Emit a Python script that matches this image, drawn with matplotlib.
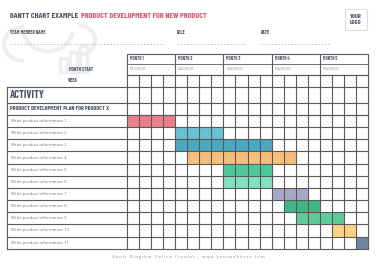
import numpy as np
import matplotlib.pyplot as plt
from matplotlib.patches import Rectangle, Arc

# Data
tasks = ["Write product information 1", "Write product information 2",
         "Write product information 3", "Write product information 4",
         "Write product information 5", "Write product information 6",
         "Write product information 7", "Write product information 8",
         "Write product information 9", "Write product information 10",
         "Write product information 11"]
start_week = [0, 4, 4, 5, 8, 8, 12, 13, 14, 17, 19]
duration = [4, 4, 8, 9, 4, 4, 3, 3, 4, 2, 1]
bar_colors = ["#ec7f8c", "#6cc0d3", "#4aa8bf", "#f7be7a", "#4ec79b", "#7fe3c0",
              "#a9a7c9", "#3eb883", "#5dcb9c", "#fbd284", "#6c88a0"]
months = ["MONTH 1", "MONTH 2", "MONTH 3", "MONTH 4", "MONTH 5"]
month_start = ["01/0000", "02/0000", "03/0000", "04/0000", "05/0000"]
n_weeks = 20

W, H = 376, 265
fig = plt.figure(figsize=(W / 100, H / 100), dpi=100)
fig.patch.set_facecolor("white")

# background axes in pixel coordinates
bg = fig.add_axes([0, 0, 1, 1])
bg.set_xlim(0, W)
bg.set_ylim(H, 0)
bg.axis("off")

cond = ["Barlow Condensed", "DejaVu Sans"]
body = ["Open Sans", "DejaVu Sans"]
dark = "#4b5661"
red = "#e0566a"
grid = "#5a5a5a"
light = "#8a8a8a"

# faint cloud watermark
wm = "#eeeeee"
for (cx, cy, w, h, t1, t2) in [(24, 44, 40, 34, 90, 270), (48, 28, 50, 46, 10, 170),
                               (78, 40, 34, 30, -90, 80)]:
    bg.add_patch(Arc((cx, cy), w, h, theta1=t1, theta2=t2, color=wm, lw=3, zorder=0))
for (x0, y0, y1) in [(60, 58, 72), (70, 52, 72), (80, 46, 72)]:
    bg.add_patch(Rectangle((x0, y0), 7, y1 - y0, fill=False, ec=wm, lw=2.5, zorder=0))

# titles
bg.text(10, 16, "GANTT CHART EXAMPLE", family=cond, fontweight="bold", fontsize=5.8,
        color=dark, va="center")
bg.text(81, 16, "PRODUCT DEVELOPMENT FOR NEW PRODUCT", family=cond, fontweight="bold",
        fontsize=5.8, color=red, va="center")
bg.add_patch(Rectangle((345, 9), 22, 21, fill=False, ec="#dddddd", lw=0.8))
bg.text(356, 19.5, "YOUR\nLOGO", family=cond, fontweight="bold", fontsize=4.5,
        color=dark, ha="center", va="center", linespacing=1.0)

for x, lab, x_end in [(10, "TEAM MEMBER NAME", 164), (177, "ROLE", 247), (261, "DATE", 330)]:
    bg.text(x, 33, lab, family=cond, fontweight="bold", fontsize=3.5, color=dark, va="center")
    bg.plot([x, x_end], [44, 44], color="#bbbbbb", lw=0.6, ls=(0, (2, 2)))

# grid geometry
gx0, gx1 = 127, 368
wk = (gx1 - gx0) / n_weeks
y_month, y_mstart, y_week, y_act, y_plan, y_task, y_bot = 54, 64, 75, 87, 103, 115, 248.7

# month header
bg.add_patch(Rectangle((gx0, y_month), gx1 - gx0, y_week - y_month, fill=False, ec=grid, lw=0.8))
bg.plot([gx0, gx1], [y_mstart, y_mstart], color=grid, lw=0.6)
for i, (m, s) in enumerate(zip(months, month_start)):
    xm = gx0 + i * 4 * wk
    if i > 0:
        bg.plot([xm, xm], [y_month, y_week], color=grid, lw=0.8)
    bg.text(xm + 3, (y_month + y_mstart) / 2, m, family=cond, fontsize=3.3,
            fontweight="bold", color=dark, va="center")
    bg.text(xm + 3, (y_mstart + y_week) / 2, s, family=body, fontsize=3.1, color=light,
            va="center")

bg.text(93, (y_mstart + y_week) / 2, "MONTH START", family=cond, fontweight="bold",
        fontsize=3.4, color=dark, va="center", ha="right")
bg.text(73, (y_week + y_act) / 2, "WEEK", family=cond, fontweight="bold",
        fontsize=3.4, color=dark, va="center", ha="center")

# week / activity / plan rows grid
for i in range(n_weeks + 1):
    xw = gx0 + i * wk
    bg.plot([xw, xw], [y_week, y_task], color=grid, lw=0.8)
bg.plot([gx0, gx1], [y_week, y_week], color=grid, lw=0.8)
for yy in (y_act, y_plan, y_task):
    bg.plot([7, gx1], [yy, yy], color=grid, lw=0.8)
bg.plot([7, 7], [y_act, y_bot], color=grid, lw=0.8)

bg.text(10, (y_act + y_plan) / 2 + 0.5, "ACTIVITY", family=cond, fontweight="bold",
        fontsize=7.6, color=dark, va="center")
bg.text(10, (y_plan + y_task) / 2, "PRODUCT DEVELOPMENT PLAN FOR PRODUCT X", family=cond,
        fontweight="bold", fontsize=4.3, color=dark, va="center")

row_h = (y_bot - y_task) / len(tasks)
for i, t in enumerate(tasks):
    yc = y_task + (i + 0.5) * row_h
    bg.text(11, yc, t, family=body, fontsize=3.1, color="#777777", va="center")
    bg.plot([7, gx0], [y_task + (i + 1) * row_h] * 2, color=grid, lw=0.8)

bg.text(W / 2, 257, "G a n t t   D i a g r a m   O n l i n e   C r e a t o r   -   w w w . y o u r w e b h e r e . c o m",
        family=body, fontsize=2.9, color="#888888", ha="center", va="center")

# gantt task area
ax = fig.add_axes([gx0 / W, 1 - y_bot / H, (gx1 - gx0) / W, (y_bot - y_task) / H])
ax.barh(np.arange(len(tasks)), duration, left=start_week, height=1.0, align="edge",
        color=bar_colors, edgecolor="none", zorder=1)
ax.set_xlim(0, n_weeks)
ax.set_ylim(len(tasks), 0)
for i in range(1, n_weeks):
    ax.axvline(i, color=grid, lw=0.8, zorder=2)
for j in range(1, len(tasks)):
    ax.axhline(j, color=grid, lw=0.8, zorder=2)
ax.set_xticks([])
ax.set_yticks([])
for sp in ax.spines.values():
    sp.set_color(grid)
    sp.set_linewidth(0.8)
ax.patch.set_alpha(0)

fig.savefig("out.png", dpi=100)
